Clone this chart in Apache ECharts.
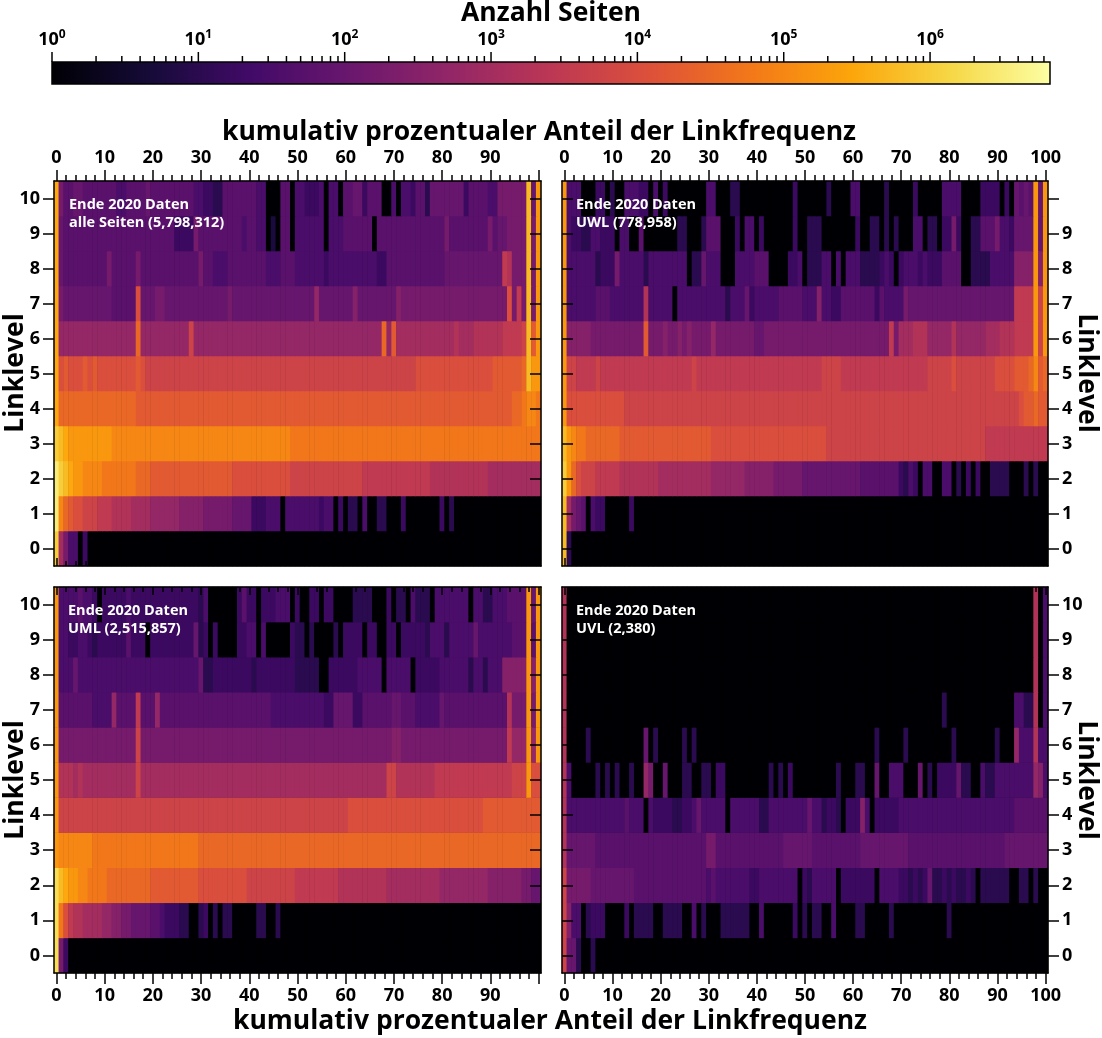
<!DOCTYPE html>
<html>
<head>
<meta charset="utf-8">
<title>Linklevel Heatmap</title>
<script src="https://cdn.jsdelivr.net/npm/echarts@6/dist/echarts.min.js"></script>
<style>
  html, body { margin: 0; padding: 0; background: #fff; }
  #chart { width: 1102px; height: 1038px; }
</style>
</head>
<body>
<div id="chart"></div>
<script>
// x: kumulativ prozentualer Anteil der Linkfrequenz (0..100), y: Linklevel (0..10)
const xCats = [];
for (let i = 0; i <= 100; i++) xCats.push(String(i));
const yCats = ['0', '1', '2', '3', '4', '5', '6', '7', '8', '9', '10'];

// ein Zeichen pro Zelle: Index in LEVELS / 4 = log10(Anzahl Seiten)
const LEVELS = '0123456789abcdefghijklmnopqr';

// Zeilen von Linklevel 0 (oben im Array) bis 10, je 101 Spalten (0..100 %)
const alleSeiten = [
  'oc96605000 0000000000 0000000000 0000000000 0000000000 0000000000 0000000000 0000000000 0000000000 0000000000 0',
  'qkihggfffe eeddddcccc bbbbbbaaaa a999999888 8555666066 6666656605 0440600440 0050000000 5040000000 0000000000 0',
  'qonmllkkkk jjjjjjjiii hhhhhhhhhh hhhhhhhggg gggggggggf ffffffffff ffffeeeeee eeeeeeeedd dddddddddd cccccccccc c',
  'onmlllllll llkkkkkkkk kkkkkkkkkk kkkkkkkkkk kkkkkkkkkj jjjjjjjjjj jjjjjjjjjj jjjjjjjjjj jjjjjjjjjj jjjjjjjjjj j',
  'miiiiiiiii iiiiiiihhh hhhhhhhhhh hhhhhhhhhh hhhhhhhhhh hhhhhhhhhh hhhhhhhhhh hhhhhhhhhh hhhhhhhhhh hhhhhiijkk j',
  'mghggghghg ggggggghgf ffffffffff ffffffffff ffffffffff ffffffffff ffffffffff fffffggggg gggggggggg ghhhhhhinl l',
  'mbbbbbbbbb bbbbbbbibb bbbbbbbbfb bbbbbbbbbb bbbbbbbbbb bbbbbbbbbb bbbbbbbbib hccccccccc cccdcccddd dddeeeefnh l',
  'm988888888 8877777g88 8998888888 8888889888 8888888888 8888b88888 88a8888888 8a99999999 9999999999 9999g9e9n9 l',
  'm877777777 7977777977 7777777777 9776667777 7777666777 6666665666 6666666557 7777777777 7888888888 888ed999n9 l',
  'm877777777 7777777777 7777755559 7777777776 7766030770 6666660666 7777770777 7777777777 7977777777 97889999n9 l',
  'm977887777 7776677778 7777777776 6554477777 7766000770 6655560660 7788577700 6066577488 8888857777 66999999n8 l'
];

const uwl = [
  'n400000000 0000000000 0000000000 0000000000 0000000000 0000000000 0000000000 0000000000 0000000000 0000000000 0',
  'nc98706550 0000500000 0000000000 0000000000 0000000000 0000000000 0000000000 0000000000 0000000000 0000000000 0',
  'oligfffeee eedddddddd cccccccccc cbbbbbbbaa aaaa999999 8888888888 8877777777 5465066006 6040505004 4440004040 0',
  'nlkjjiiiii iihhhhhhhh hhhhhhhhhh hggggggggg gggggggggg gggggfffff ffffffffff ffffffffff ffffffffee eeeeeeeeee e',
  'lggggggggg gggfffffff ffffffffff ffffffffff ffffffffff ffffffffff ffffffffff ffffffffff ffffffffff fffffghhih h',
  'lffeeeefee eeeeeeeeee eeeeeeefee eeeeeeeeee eeeeeeeeee eeeeffffee eeeeeeeeee eeeeeeffff fgffffffff gggghhhikh i',
  'laaaaa9999 9999999h99 9a99a9a999 9b99999999 8899999999 9999999999 99999999e9 cccdddbbbb bdbbbbbbcc cdddeeeelf l',
  'l666666777 6666666d66 6660666666 6666466685 6666677777 666a665577 7777757666 6988888888 8888888888 8888eeeelf l',
  'l666666455 5966666466 6666660448 6660006666 7770000556 0444660606 6644445650 5666565557 7770044446 6666aaaala l',
  'l655446655 5066007000 0000440004 7770005066 0500000050 0444000000 0500440404 0006604405 5950044777 96658888l8 l',
  'l666000550 4006665506 0500000000 6600044000 0000000050 0000040000 6600000400 0005000006 6660000555 50508787l8 l'
];

const uml = [
  'p950000000 0000000000 0000000000 0000000000 0000000000 0000000000 0000000000 0000000000 0000000000 0000000000 0',
  'pjgeddcccc bbaa998888 7765554400 4504044000 0044004000 0000000000 0000000000 0000000000 0000000000 0000000000 0',
  'pnmllkkjjj jiiiiiiiii hhhhhhhhhh gggggggggg ffffffffff eeeeeeeeed dddddddddc cccccccccc bbbbbbbbbb aaaaaaa998 8',
  'lkkkkkkkjj jjjjjjjjjj jjjjjjjjjj iiiiiiiiii iiiiiiiiii iiiiiiiiii iiiiiiiiii iiiiiiiiii iiiiiiiiii iiiiiiiiii i',
  'lfffffffff ffffffffff ffffffffff ffffffffff ffffffffff ffffffffff fggggggggg gggggggggg gggggggggh hhhhhhhhhh h',
  'ldddcdcccc cccccccfcc cccccccccc cccccccccc cccccccccc cccccccccc cccccccccf fdddddddde eeeeeeeeee eeeeeffflg g',
  'l999999999 9999999f99 9999999999 9999999999 9999999999 9999999999 9999999999 aa99999999 9999999999 9999ebbblb l',
  'l777777766 66b7777e77 7b77777777 7777777777 7777766666 6666665588 8855777777 8877766666 8777777777 7777d999l9 l',
  'l666866666 6666666666 6666666666 8445555555 5455555555 4444400555 5556666606 6666055555 6666664664 666aaaaala l',
  'l665566545 5555575550 5555555558 4505000055 6606000005 4404000040 5555055005 5055555466 6466666866 66666777l7 l',
  'l666676650 5555565555 5555555555 4600000057 5505556660 5005505500 0044440005 0440644406 6666660664 46667777l8 l'
];

const uvl = [
  'f884004000 0000000000 0000000000 0000000000 0000000000 0000000000 0000000000 0000000000 0000000000 0000000000 0',
  'fa66045550 0005044440 0444400604 0004444440 0600000050 4044006000 0440000040 0000000000 4000000000 0000000000 0',
  'f999998888 8888877777 7777777777 6766666665 5666666660 5466666055 5555506666 5545458445 4544540444 4440044040 0',
  'd888888777 7777777777 7777777777 9977777777 7777778888 8877777777 7788888888 8877777777 7777777777 7788888888 8',
  'd666666666 6667666065 5554455686 6666066666 6446666666 6866455405 55a6055555 6666666666 6666666666 6666777777 7',
  'd600000404 0400400b90 0800044004 4055000000 0004040500 0000000400 0440080066 6000804055 5584400644 66666666ba 6',
  'd000040000 0000000804 0000040400 0000000000 0000000000 0000000000 0000040000 0400000000 0400000000 4000b666d6 6',
  'd000000000 0000000000 0000000000 0000000000 0000000000 0000000000 0000000000 0000000004 0000000000 00006644d0 6',
  'd000000000 0000000000 0000000000 0000000000 0000000000 0000000000 0000000000 0000000000 0000000000 00000000d0 6',
  'd000000000 0000000000 0000000000 0000000000 0000000000 0000000000 0000000000 0000000000 0000000000 00000000d0 6',
  'd000000000 0000000000 0000000000 0000000000 0000000000 0000000000 0000000000 0000000000 0000000000 00000000d0 6'
];

// Farbskala (Anzahl Seiten, logarithmisch)
const cbMax = 6.6e6;
const cbMajor = [1, 10, 100, 1e3, 1e4, 1e5, 1e6];
const cbMinor = [];
cbMajor.forEach(d => {
  for (let k = 2; k <= 9; k++) if (k * d < cbMax) cbMinor.push(k * d);
});
const inferno = ['#000004', '#160b39', '#420a68', '#6a176e', '#932667', '#bc3754',
                 '#dd513a', '#f37819', '#fca50a', '#f6d746', '#fcffa4'];

const FONT = '"Open Sans", "Noto Sans", sans-serif';

const panels = [
  { rows: alleSeiten, label: 'Ende 2020 Daten\nalle Seiten (5,798,312)',
    grid: { left: 54, top: 181, width: 487, height: 385 }, xPos: 'top', yPos: 'left', xLast: 90, yLast: 10, text: [69, 196] },
  { rows: uwl, label: 'Ende 2020 Daten\nUWL (778,958)',
    grid: { left: 562, top: 181, width: 486, height: 385 }, xPos: 'top', yPos: 'right', xLast: 100, yLast: 9, text: [576, 196] },
  { rows: uml, label: 'Ende 2020 Daten\nUML (2,515,857)',
    grid: { left: 54, top: 587, width: 487, height: 386 }, xPos: 'bottom', yPos: 'left', xLast: 90, yLast: 10, text: [68, 602] },
  { rows: uvl, label: 'Ende 2020 Daten\nUVL (2,380)',
    grid: { left: 562, top: 587, width: 486, height: 386 }, xPos: 'bottom', yPos: 'right', xLast: 100, yLast: 10, text: [576, 602] }
];

const lineStyle = { color: '#000', width: 1.5 };
const tickLabel = { color: '#000', fontFamily: FONT, fontWeight: 'bold', fontSize: 18 };

const grids = [], xAxes = [], yAxes = [], series = [], graphics = [];

panels.forEach((p, gi) => {
  grids.push(Object.assign({ show: true, backgroundColor: '#000', borderWidth: 0 }, p.grid));
  const xOther = p.xPos === 'top' ? 'bottom' : 'top';
  const yOther = p.yPos === 'left' ? 'right' : 'left';
  const xBase = { type: 'category', gridIndex: gi, data: xCats, boundaryGap: true, z: 10, splitLine: { show: false } };
  const yBase = { type: 'category', gridIndex: gi, data: yCats, boundaryGap: true, z: 10, splitLine: { show: false } };

  const xi = xAxes.length;
  xAxes.push(Object.assign({}, xBase, {
    position: p.xPos,
    axisLine: { show: true, lineStyle },
    axisTick: { show: true, alignWithLabel: true, interval: i => i % 10 === 0, length: 11, lineStyle },
    axisLabel: Object.assign({ margin: 14, interval: i => i % 10 === 0 && i <= p.xLast }, tickLabel)
  }));
  xAxes.push(Object.assign({}, xBase, {
    position: p.xPos, axisLine: { show: false },
    axisTick: { show: true, alignWithLabel: true, interval: i => i % 2 === 0, length: 6, lineStyle },
    axisLabel: { show: false }
  }));
  xAxes.push(Object.assign({}, xBase, {
    position: xOther, axisLine: { show: true, lineStyle },
    axisTick: { show: true, inside: true, alignWithLabel: true, interval: i => i % 10 === 0, length: 8, lineStyle },
    axisLabel: { show: false }
  }));
  xAxes.push(Object.assign({}, xBase, {
    position: xOther, axisLine: { show: false },
    axisTick: { show: true, inside: true, alignWithLabel: true, interval: i => i % 2 === 0, length: 5, lineStyle },
    axisLabel: { show: false }
  }));

  const yi = yAxes.length;
  yAxes.push(Object.assign({}, yBase, {
    position: p.yPos,
    axisLine: { show: true, lineStyle },
    axisTick: { show: true, alignWithLabel: true, length: 11, lineStyle },
    axisLabel: Object.assign({ margin: 14, interval: 0, formatter: v => (Number(v) <= p.yLast ? v : '') }, tickLabel)
  }));
  yAxes.push(Object.assign({}, yBase, {
    position: yOther,
    axisLine: { show: true, lineStyle },
    axisTick: { show: true, inside: true, alignWithLabel: true, length: 11, lineStyle },
    axisLabel: { show: false }
  }));

  const data = [];
  p.rows.forEach((row, y) => {
    const cells = row.replace(/ /g, '');
    for (let x = 0; x < cells.length && x < xCats.length; x++) {
      data.push([x, y, LEVELS.indexOf(cells[x]) / 4]);
    }
  });
  series.push({
    type: 'heatmap', xAxisIndex: xi, yAxisIndex: yi, data,
    silent: true, emphasis: { disabled: true }, itemStyle: { borderWidth: 0 }
  });

  graphics.push({
    type: 'text', x: p.text[0], y: p.text[1], z: 100,
    style: {
      text: p.label, fill: '#fff', font: 'bold 14.5px ' + FONT, lineHeight: 18,
      align: 'left', verticalAlign: 'top', textAlign: 'left', textVerticalAlign: 'top'
    }
  });
});

// Farbbalken
const cbGrid = grids.length;
grids.push({ left: 52, top: 62, width: 998, height: 22, show: false });
const cbX = xAxes.length;
xAxes.push({
  type: 'value', gridIndex: cbGrid, min: 0, max: Math.log10(cbMax), interval: 1, position: 'top',
  axisLine: { show: false }, axisTick: { show: false }, splitLine: { show: false },
  axisLabel: {
    margin: 11, showMaxLabel: false,
    formatter: v => (Math.abs(v - Math.round(v)) < 1e-6 ? '{b|10}{s|' + Math.round(v) + '}' : ''),
    rich: {
      b: { fontFamily: FONT, fontWeight: 'bold', fontSize: 18, color: '#000', lineHeight: 22 },
      s: { fontFamily: FONT, fontWeight: 'bold', fontSize: 12, color: '#000', lineHeight: 14, verticalAlign: 'top' }
    }
  }
});
const cbY = yAxes.length;
yAxes.push({ type: 'value', gridIndex: cbGrid, min: 0, max: 1, show: false });

series.push({
  type: 'custom', xAxisIndex: cbX, yAxisIndex: cbY, silent: true,
  data: [[0, Math.log10(cbMax)]],
  renderItem: (params, api) => {
    const a = api.coord([api.value(0), 0]);
    const b = api.coord([api.value(1), 1]);
    return {
      type: 'rect',
      shape: { x: a[0], y: b[1], width: b[0] - a[0], height: a[1] - b[1] },
      style: {
        fill: {
          type: 'linear', x: 0, y: 0, x2: 1, y2: 0,
          colorStops: inferno.map((c, i) => ({ offset: i / (inferno.length - 1), color: c }))
        },
        stroke: '#000', lineWidth: 1.5
      }
    };
  }
});

function tickSeries(values, len) {
  return {
    type: 'custom', xAxisIndex: cbX, yAxisIndex: cbY, silent: true,
    data: values.map(v => [Math.log10(v), 1]),
    renderItem: (params, api) => {
      const pt = api.coord([api.value(0), 1]);
      return {
        type: 'line',
        shape: { x1: pt[0], y1: pt[1], x2: pt[0], y2: pt[1] - len },
        style: { stroke: '#000', lineWidth: 1.5 }
      };
    }
  };
}
series.push(tickSeries(cbMajor, 10));
series.push(tickSeries(cbMinor, 6));

// Titel und Achsennamen
function label(text, x, y, rot, size) {
  return {
    type: 'text', x, y, rotation: rot || 0, z: 100,
    style: {
      text, fill: '#000', font: 'bold ' + size + 'px ' + FONT,
      align: 'center', verticalAlign: 'middle', textAlign: 'center', textVerticalAlign: 'middle'
    }
  };
}
const xName = 'kumulativ prozentualer Anteil der Linkfrequenz';
graphics.push(label('Anzahl Seiten', 551, 13, 0, 26.5));
graphics.push(label(xName, 539, 132, 0, 26.5));
graphics.push(label(xName, 550, 1021, 0, 26.5));
graphics.push(label('Linklevel', 15, 373, Math.PI / 2, 26.5));
graphics.push(label('Linklevel', 15, 780, Math.PI / 2, 26.5));
graphics.push(label('Linklevel', 1087, 373, -Math.PI / 2, 26.5));
graphics.push(label('Linklevel', 1087, 780, -Math.PI / 2, 26.5));

const chart = echarts.init(document.getElementById('chart'));
chart.setOption({
  animation: false,
  backgroundColor: '#fff',
  textStyle: { fontFamily: FONT },
  grid: grids,
  xAxis: xAxes,
  yAxis: yAxes,
  visualMap: {
    type: 'continuous', show: false, min: 0, max: Math.log10(cbMax),
    dimension: 2, seriesIndex: [0, 1, 2, 3], inRange: { color: inferno }
  },
  series,
  graphic: graphics
});
</script>
</body>
</html>
